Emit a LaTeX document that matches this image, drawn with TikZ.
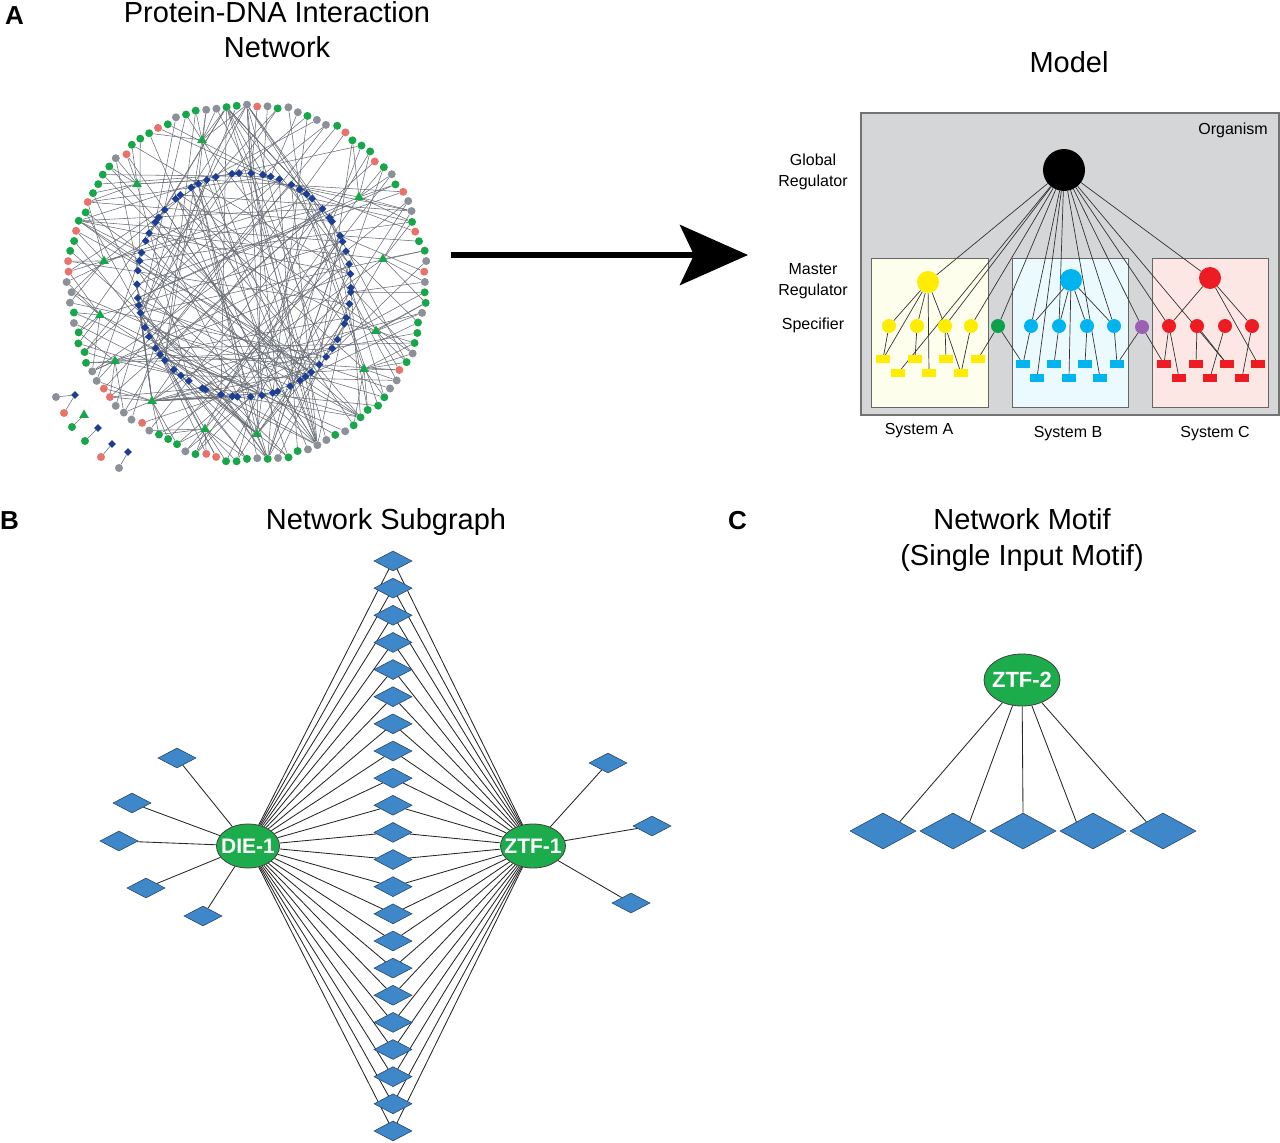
\documentclass[tikz,border=0pt]{standalone}
\usepackage{fontspec}
\setmainfont{Liberation Sans}
\usetikzlibrary{shapes.geometric,arrows.meta}
\pgfdeclarelayer{back}
\pgfdeclarelayer{edges}
\pgfsetlayers{back,edges,main}
\definecolor{ngreen}{RGB}{24,166,74}
\definecolor{ngrey}{RGB}{140,145,152}
\definecolor{nsalmon}{RGB}{232,115,107}
\definecolor{nnavy}{RGB}{28,62,148}
\definecolor{nline}{RGB}{105,109,117}
\definecolor{dblue}{RGB}{62,136,201}
\definecolor{dborder}{RGB}{40,70,110}
\definecolor{egreen}{RGB}{28,172,75}
\definecolor{orgbg}{RGB}{213,214,216}
\definecolor{myellow}{RGB}{255,237,0}
\definecolor{mcyan}{RGB}{0,180,240}
\definecolor{mred}{RGB}{237,28,36}
\definecolor{mgreen}{RGB}{13,160,75}
\definecolor{mpurple}{RGB}{155,95,180}
\definecolor{boxA}{RGB}{254,254,236}
\definecolor{boxB}{RGB}{234,250,254}
\definecolor{boxC}{RGB}{253,231,228}
\tikzset{
 ttl/.style={font=\fontsize{29}{33}\selectfont, inner sep=0, anchor=base},
 plabel/.style={font=\fontsize{26}{30}\selectfont\bfseries, inner sep=0, anchor=base west},
 lbl/.style={font=\fontsize{16}{19}\selectfont, inner sep=0, anchor=base},
 ocirc/.style={circle, minimum size=8, inner sep=0, fill=#1},
 ndiam/.style={diamond, minimum width=8, minimum height=8, inner sep=0, fill=nnavy},
 ntri/.style={regular polygon, regular polygon sides=3, minimum size=11, inner sep=0, fill=ngreen},
 netedge/.style={draw=nline, line width=0.55},
 bdiam/.style={diamond, minimum width=38, minimum height=20, inner sep=0, fill=dblue, draw=dborder, line width=0.6},
 cdiam/.style={diamond, minimum width=66, minimum height=36, inner sep=0, fill=dblue, draw=dborder, line width=0.6},
 tf/.style={ellipse, fill=egreen, draw=black!75, line width=0.8, inner sep=0, text=white},
 bedge/.style={draw=black!85, line width=0.85},
 medge/.style={draw=black!80, line width=0.7},
 gnode/.style={circle, fill=black, minimum size=42, inner sep=0},
 mnode/.style={circle, fill=#1, minimum size=22, inner sep=0},
 snode/.style={circle, fill=#1, minimum size=14, inner sep=0},
 tnode/.style={rectangle, fill=#1, minimum width=14, minimum height=8, inner sep=0},
 sysbox/.style={draw=black!60, line width=0.9, fill=#1},
}
\begin{document}
\begin{tikzpicture}[x=1pt,y=-1pt]
\useasboundingbox (0,0) rectangle (1280,1143);

% ---------------- titles ----------------
\node[plabel] (labA) at (5,24) {A};
\node[plabel] (labB) at (0,529) {B};
\node[plabel] (labC) at (728,529) {C};
\node[ttl] (tA1) at (277,23) {Protein-DNA Interaction};
\node[ttl] (tA2) at (277,57) {Network};
\node[ttl] (tM) at (1069,72) {Model};
\node[ttl] (tB) at (386,529) {Network Subgraph};
\node[ttl] (tC1) at (1022,529) {Network Motif};
\node[ttl] (tC2) at (1022,565) {(Single Input Motif)};

% ---------------- network (panel A) ----------------
\pgfmathsetseed{731}
\foreach \ii in {0,...,107}{
  \pgfmathsetmacro\ang{\ii*3.333333}
  \pgfmathsetmacro\rad{178+2.5*rand}
  \pgfmathrandominteger\cc{1}{100}
  \ifnum\cc<54 \def\col{ngreen}\else\ifnum\cc<83 \def\col{ngrey}\else\def\col{nsalmon}\fi\fi
  \node[ocirc=\col] (o\ii) at ({247+\rad*cos(\ang)},{282+\rad*sin(\ang)}) {};
}
\foreach \jj in {1,...,66}{
  \pgfmathsetmacro\ang{\jj*5.454545+2*rand}
  \node[ndiam] (d\jj) at ({244+107*cos(\ang)},{285+112*sin(\ang)}) {};
}
\foreach \x/\y [count=\kk] in {202/140,137/184,104/261,359/197,383/259,100/315,115/361,152/401,205/429,376/331,364/369,257/434}{
  \node[ntri] (t\kk) at (\x,\y) {};
}
% small pairs outside the ring
\node[ocirc=ngrey] (q1) at (56,397) {};
\node[ndiam] (qd1) at (75,395) {};
\node[ocirc=nsalmon] (q2) at (64,413) {};
\node[ntri] (qt1) at (84,415) {};
\node[ocirc=ngreen] (q3) at (72,427) {};
\node[ocirc=ngreen] (q4) at (85,441) {};
\node[ndiam] (qd2) at (98,428) {};
\node[ocirc=nsalmon] (q5) at (101,457) {};
\node[ndiam] (qd3) at (112,444) {};
\node[ocirc=ngrey] (q6) at (119,468) {};
\node[ndiam] (qd4) at (128,452) {};

\begin{pgfonlayer}{edges}
\foreach \ii in {0,...,107}{
  \pgfmathrandominteger\jj{1}{66}
  \draw[netedge] (o\ii) -- (d\jj);
  \pgfmathrandominteger\cc{1}{10}
  \ifnum\cc<4 \pgfmathrandominteger\jj{1}{66}\draw[netedge] (o\ii) -- (d\jj);\fi
}
\foreach \x/\y [count=\kk] in {202/140,137/184,104/261,359/197,383/259,100/315,115/361,152/401,205/429,376/331,364/369,257/434}{
  \pgfmathsetmacro\ta{atan2(\y-282,\x-247)}
  \pgfmathtruncatemacro\nn{mod(round(\ta/3.33333)+216,108)}
  \foreach \dd in {-5,...,5}{
    \pgfmathrandominteger\cc{1}{10}
    \ifnum\cc<7 \pgfmathtruncatemacro\mm{mod(\nn+\dd+108,108)}\draw[netedge] (t\kk) -- (o\mm);\fi
  }
  \foreach \rr in {1,...,3}{
    \pgfmathrandominteger\jj{1}{66}
    \draw[netedge] (t\kk) -- (d\jj);
  }
}
\foreach \hh/\nb in {20/12,25/9,79/9,81/8,15/6,60/6}{
  \foreach \rr in {1,...,\nb}{
    \pgfmathrandominteger\jj{1}{66}
    \draw[netedge] (o\hh) -- (d\jj);
  }
}
\foreach \rr in {1,...,14}{
  \pgfmathrandominteger\jj{8}{34}
  \draw[netedge] (t8) -- (d\jj);
}
\foreach \rr in {1,...,8}{
  \pgfmathrandominteger\jj{1}{30}
  \draw[netedge] (t12) -- (d\jj);
}
\draw[netedge] (q1) -- (qd1);
\draw[netedge] (q2) -- (qd1);
\draw[netedge] (qt1) -- (q3);
\draw[netedge] (q4) -- (qd2);
\draw[netedge] (q5) -- (qd3);
\draw[netedge] (q6) -- (qd4);
\end{pgfonlayer}

% ---------------- arrow ----------------
\coordinate (arrS) at (451,255);
\coordinate (arrE) at (748,255);
\draw[line width=6, -{Stealth[length=68pt,width=60pt,inset=14pt]}] (arrS) -- (arrE);

% ---------------- model ----------------
\begin{pgfonlayer}{back}
\draw[draw=black!55, line width=1.2, fill=orgbg] (861,113) rectangle (1279,415);
\draw[sysbox=boxA] (871,258) rectangle (988,407);
\draw[sysbox=boxB] (1012,258) rectangle (1128,407);
\draw[sysbox=boxC] (1152,258) rectangle (1268,407);
\end{pgfonlayer}
\node[lbl] (org) at (1233,134) {Organism};
\node[lbl] (gl1) at (813,165) {Global};
\node[lbl] (gl2) at (813,186) {Regulator};
\node[lbl] (ml1) at (813,274) {Master};
\node[lbl] (ml2) at (813,295) {Regulator};
\node[lbl] (sp) at (813,329) {Specifier};
\node[lbl] (sA) at (919,434) {System A};
\node[lbl] (sB) at (1068,437) {System B};
\node[lbl] (sC) at (1215,437) {System C};

\node[gnode] (G) at (1064,170) {};
\node[mnode=myellow] (YM) at (928,282) {};
\node[mnode=mcyan] (BM) at (1071,280) {};
\node[mnode=mred] (RM) at (1210,278) {};
\foreach \x [count=\kk] in {889,917,945,971} \node[snode=myellow] (YS\kk) at (\x,326) {};
\foreach \x [count=\kk] in {1031,1059,1087,1114} \node[snode=mcyan] (BS\kk) at (\x,326) {};
\foreach \x [count=\kk] in {1169,1197,1225,1252} \node[snode=mred] (RS\kk) at (\x,326) {};
\node[snode=mgreen] (GS) at (998,326) {};
\node[snode=mpurple] (PS) at (1142,327) {};
\foreach \x [count=\kk] in {883,915,946,978} \node[tnode=myellow] (YRa\kk) at (\x,359) {};
\foreach \x [count=\kk] in {898,929,961} \node[tnode=myellow] (YRb\kk) at (\x,373) {};
\foreach \x [count=\kk] in {1023,1054,1085,1117} \node[tnode=mcyan] (BRa\kk) at (\x,364) {};
\foreach \x [count=\kk] in {1037,1069,1100} \node[tnode=mcyan] (BRb\kk) at (\x,378) {};
\foreach \x [count=\kk] in {1164,1196,1227,1258} \node[tnode=mred] (RRa\kk) at (\x,364) {};
\foreach \x [count=\kk] in {1179,1210,1242} \node[tnode=mred] (RRb\kk) at (\x,378) {};

\begin{pgfonlayer}{edges}
\foreach \tg in {YM,YRb1,YS3,YS4,GS,BS1,BRb1,BS2,BRb3,BS4,PS,RS1,RRa3,RM}
  \draw[medge] (G) -- (\tg);
\foreach \a/\b in {YM/YS1,YM/YRa1,YM/YS2,YM/YRb2,YM/YS3,YS1/YRa1,YS2/YRa2,YS3/YRa3,YS3/YRb3,YS4/YRb3,
  GS/YRa4,GS/BRa1,BM/BS1,BM/BS2,BM/BS3,BM/BS4,BM/BRb2,BS1/BRa1,BS2/BRa2,BS3/BRa3,BS4/BRa4,
  PS/BRa4,PS/RRa1,RM/RS1,RM/RS4,RM/RRa4,RS1/RRa1,RS1/RRb1,RS2/RRa2,RS2/RRa3,RS3/RRb2,RS4/RRb3}
  \draw[medge] (\a) -- (\b);
\end{pgfonlayer}

% ---------------- panel B ----------------
\node[tf, minimum width=63, minimum height=44] (die) at (248,846) {\makebox[0pt]{\fontsize{21}{24}\selectfont\bfseries DIE-1}};
\node[tf, minimum width=65, minimum height=44] (ztf1) at (533,846) {\makebox[0pt]{\fontsize{21}{24}\selectfont\bfseries ZTF-1}};
\foreach \kk in {1,...,22}{
  \node[bdiam] (b\kk) at (393,{561+(\kk-1)*27.14}) {};
}
\foreach \x/\y [count=\kk] in {177/758,132/803,119/841,146/888,203/916}
  \node[bdiam] (l\kk) at (\x,\y) {};
\foreach \x/\y [count=\kk] in {608/763,652/826,631/903}
  \node[bdiam] (r\kk) at (\x,\y) {};
\begin{pgfonlayer}{edges}
\foreach \kk in {1,...,22}{
  \draw[bedge] (die) -- (b\kk);
  \draw[bedge] (ztf1) -- (b\kk);
}
\foreach \kk in {1,...,5} \draw[bedge] (die) -- (l\kk);
\foreach \kk in {1,...,3} \draw[bedge] (ztf1) -- (r\kk);
\end{pgfonlayer}

% ---------------- panel C ----------------
\node[tf, minimum width=76, minimum height=52] (ztf2) at (1022,680) {\makebox[0pt]{\fontsize{22}{26}\selectfont\bfseries ZTF-2}};
\foreach \x [count=\kk] in {883,953,1023,1093,1163}
  \node[cdiam] (m\kk) at (\x,831) {};
\begin{pgfonlayer}{edges}
\draw[bedge] (ztf2) -- (m1.north east);
\draw[bedge] (ztf2) -- (m2.north east);
\draw[bedge] (ztf2) -- (m3.north);
\draw[bedge] (ztf2) -- (m4.north west);
\draw[bedge] (ztf2) -- (m5.north west);
\end{pgfonlayer}
\end{tikzpicture}
\end{document}
